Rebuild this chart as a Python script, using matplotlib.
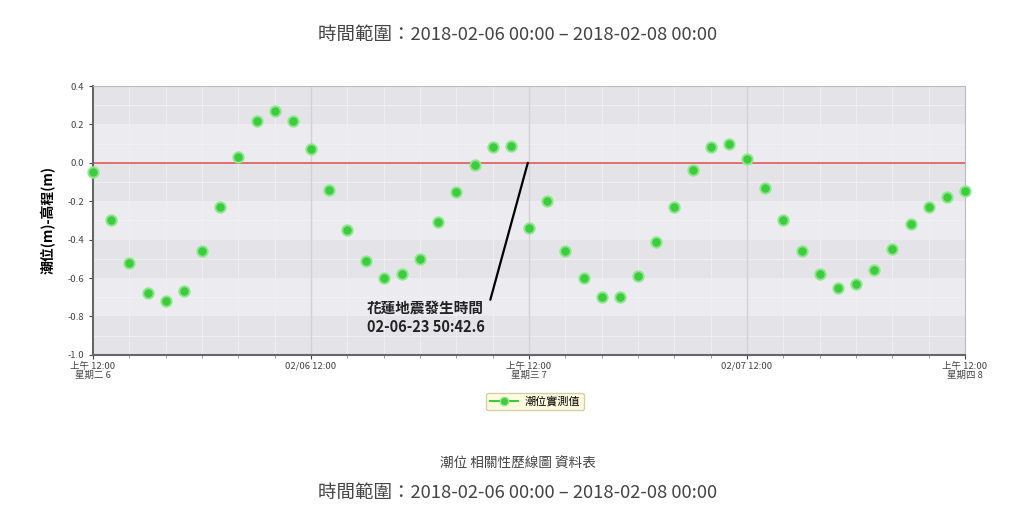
import matplotlib
matplotlib.use("Agg")
import matplotlib.pyplot as plt

plt.rcParams['font.family'] = ['Noto Sans CJK TC', 'DejaVu Sans']

# hours since 2018-02-06 00:00
hours = list(range(49))
tide = [-0.05, -0.30, -0.52, -0.68, -0.72, -0.67, -0.46, -0.23, 0.03, 0.22,
        0.27, 0.22, 0.07, -0.14, -0.35, -0.51, -0.60, -0.58, -0.50, -0.31,
        -0.15, -0.01, 0.08, 0.09, -0.34, -0.20, -0.46, -0.60, -0.70, -0.70,
        -0.59, -0.41, -0.23, -0.04, 0.08, 0.10, 0.02, -0.13, -0.30, -0.46,
        -0.58, -0.65, -0.63, -0.56, -0.45, -0.32, -0.23, -0.18, -0.145]

tick_hours = [0, 12, 24, 36, 48]
tick_labels = ["上午 12:00\n星期二 6", "02/06 12:00", "上午 12:00\n星期三 7",
               "02/07 12:00", "上午 12:00\n星期四 8"]

quake_hour = 23 + 50 / 60
title = "時間範圍：2018-02-06 00:00 – 2018-02-08 00:00"

fig = plt.figure(figsize=(10.36, 5.15), dpi=100)
ax = fig.add_axes([0.0898, 0.311, 0.8417, 0.522])

# alternating bands
ax.set_facecolor("#e8e8ec")
bands = [-1.0, -0.8, -0.6, -0.4, -0.2, 0.0, 0.2, 0.4]
for i in range(len(bands) - 1):
    c = "#e4e4e8" if i % 2 == 0 else "#ebebf0"
    ax.axhspan(bands[i], bands[i + 1], color=c, zorder=0, lw=0)
for y in [-0.9, -0.7, -0.5, -0.3, -0.1, 0.1, 0.3]:
    ax.axhline(y, color="#f2f2f5", lw=0.6, zorder=0.5)
for h in range(0, 49, 2):
    ax.axvline(h, color="#f0f0f4", lw=0.6, zorder=0.5)
for h in [12, 24, 36]:
    ax.axvline(h, color="#d2d2d6", lw=1.0, zorder=0.6)

ax.axhline(0, color="#e05a5a", lw=1.2, zorder=1)

ax.plot(hours, tide, linestyle="none", marker="o", markersize=7.5,
        markerfacecolor="#3dcc3d", markeredgecolor="#8fe88f",
        markeredgewidth=1.4, zorder=3, clip_on=False)

ax.set_xlim(0, 48)
ax.set_ylim(-1.0, 0.4)
ax.set_yticks([-1.0, -0.8, -0.6, -0.4, -0.2, 0.0, 0.2, 0.4])
ax.set_yticklabels(["-1.0", "-0.8", "-0.6", "-0.4", "-0.2", "0.0", "0.2", "0.4"])
ax.set_xticks(tick_hours)
ax.set_xticklabels(tick_labels)
ax.tick_params(axis="both", labelsize=6.8, colors="#444444", length=3)
ax.tick_params(axis="x", pad=2)
for lbl in ax.get_xticklabels():
    lbl.set_linespacing(1.0)
ax.set_xticks(range(0, 49, 2), minor=True)
ax.tick_params(axis="x", which="minor", length=2, color="#888888")

ax.set_ylabel("潮位(m)-高程(m)", fontsize=10, fontweight="bold", labelpad=8)

for side in ["left", "bottom"]:
    ax.spines[side].set_color("#666666")
    ax.spines[side].set_linewidth(1.5)
for side in ["top", "right"]:
    ax.spines[side].set_color("#bbbbbb")
    ax.spines[side].set_linewidth(0.8)

# earthquake annotation
ax.annotate("花蓮地震發生時間\n02-06-23 50:42.6",
            xy=(quake_hour + 0.1, 0.0), xytext=(18.3, -0.805),
            ha="center", va="center", fontsize=10.5, fontweight="bold",
            color="#222222", linespacing=1.25,
            arrowprops=dict(arrowstyle="-", color="black", lw=1.6,
                            shrinkA=0, shrinkB=0,
                            relpos=(1.05, 1.0)))

# legend handle: line with marker
ax.plot([], [], color="#3dcc3d", lw=1.5, marker="o", markersize=6,
        markerfacecolor="#3dcc3d", markeredgecolor="#8fe88f", label="潮位實測值")
leg = ax.legend(loc="center", bbox_to_anchor=(0.507, -0.173),
                fontsize=8, frameon=True, handlelength=2.6,
                borderpad=0.3, handletextpad=0.6, fancybox=True)
leg.get_frame().set_facecolor("#fffbd6")
leg.get_frame().set_edgecolor("#c8c49a")

fig.text(0.5, 0.932, title, ha="center", va="center", fontsize=13.3, color="#444444")
fig.text(0.5, 0.099, "潮位 相關性歷線圖 資料表", ha="center", va="center",
         fontsize=9.8, color="#444444")
fig.text(0.5, 0.042, title, ha="center", va="center", fontsize=13.3, color="#444444")

fig.savefig("out.png", dpi=100)
